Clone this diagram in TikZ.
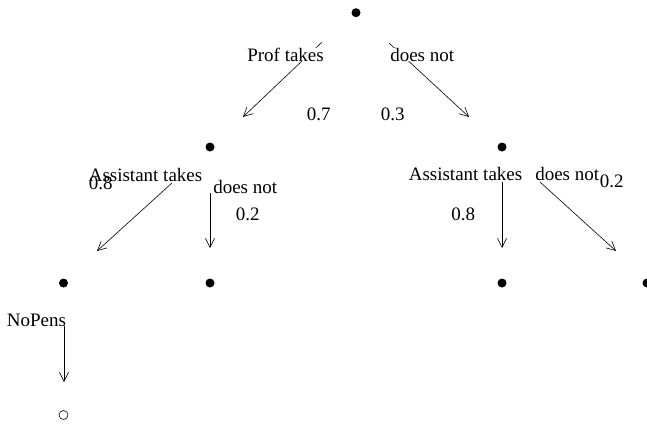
\documentclass[tikz,border=0pt]{standalone}
\usepackage{fontspec}
\setmainfont{Liberation Serif}
\usetikzlibrary{arrows.meta}

\begin{document}
\begin{tikzpicture}[x=1pt, y=-1pt, line width=0.6pt,
    >={Straight Barb[length=9pt, width=9pt]},
    dot/.style={circle, fill, inner sep=0pt, minimum size=9pt},
    hollow/.style={circle, draw, inner sep=0pt, minimum size=9pt},
    lbl/.style={anchor=base west, inner sep=0pt, font=\fontsize{19}{22}\selectfont}]

   \useasboundingbox (0,0) rectangle (647,424);

   % the tree points
   \node[dot] (r)  at (356,12.7) {};
   \node[dot] (p)  at (210,147)  {};
   \node[dot] (q)  at (502,147)  {};
   \node[dot] (pp) at (63.5,283) {};
   \node[dot] (pq) at (210,283)  {};
   \node[dot] (qp) at (502,283)  {};
   \node[dot] (qq) at (647,283)  {};
   \node[hollow] (np) at (63.5,415) {};

   % arrow ends
   \coordinate (rs1) at (322,42);   \coordinate (re1) at (243,117);
   \coordinate (rs2) at (389,43);   \coordinate (re2) at (469,117);
   \coordinate (ps1) at (172,183);  \coordinate (pe1) at (97,251);
   \coordinate (ps2) at (210,193);  \coordinate (pe2) at (210,248);
   \coordinate (qs1) at (502,182);  \coordinate (qe1) at (502,248);
   \coordinate (qs2) at (540,182);  \coordinate (qe2) at (616,251);
   \coordinate (ns)  at (64,326);   \coordinate (ne)  at (64,382);

   \path[->]
    (rs1) edge (re1)
    (rs2) edge (re2)
    (ps1) edge (pe1)
    (ps2) edge (pe2)
    (qs1) edge (qe1)
    (qs2) edge (qe2)
    (ns)  edge (ne);

   % labels
   \node[lbl, fill=white] (t1) at (247,61)  {Prof takes};
   \node[lbl, fill=white] (t2) at (390,61)  {does not};
   \node[lbl] (t3)  at (306.5,120.5) {0.7};
   \node[lbl] (t4)  at (380.5,120.5) {0.3};
   \node[lbl] (t5)  at (88.5,181)    {Assistant takes};
   \node[lbl] (t6)  at (88.5,189)    {0.8};
   \node[lbl] (t7)  at (213,193)     {does not};
   \node[lbl] (t8)  at (235.5,220.5) {0.2};
   \node[lbl] (t9)  at (408.5,180)   {Assistant takes};
   \node[lbl] (t10) at (535,180)     {does not};
   \node[lbl] (t11) at (599.5,187)   {0.2};
   \node[lbl] (t12) at (451,220.5)   {0.8};
   \node[lbl] (t13) at (6.5,326.5)   {NoPens};

\end{tikzpicture}
\end{document}
